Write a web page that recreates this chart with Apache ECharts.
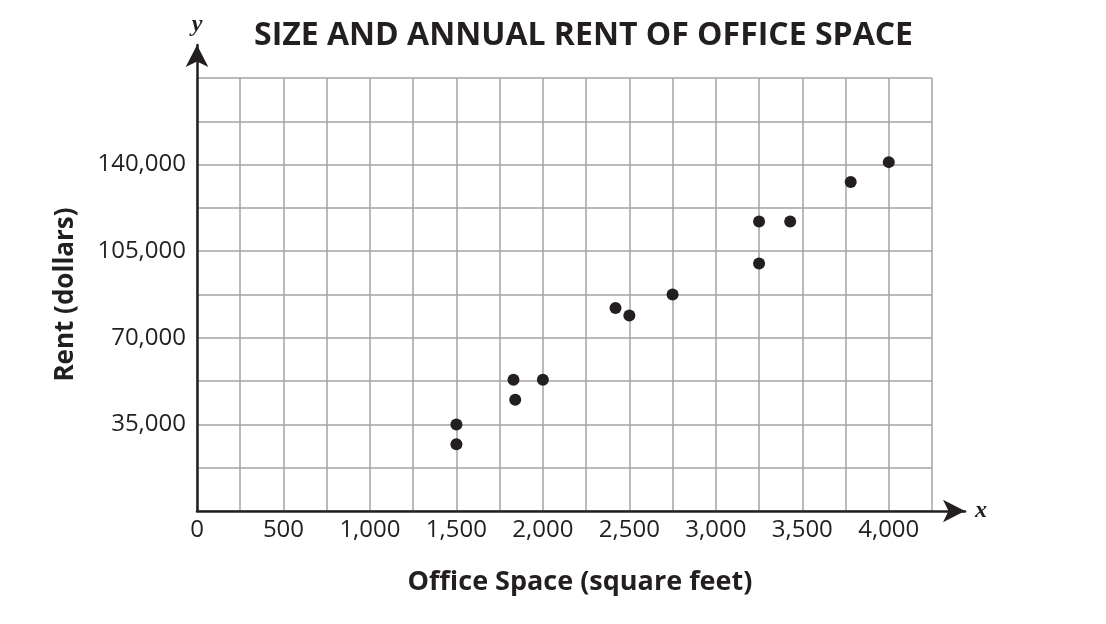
<!DOCTYPE html>
<html>
<head>
<meta charset="utf-8">
<script src="https://cdn.jsdelivr.net/npm/echarts@6/dist/echarts.min.js"></script>
<style>
  html, body { margin: 0; padding: 0; background: #fff; }
  #chart { width: 1106px; height: 624px; }
</style>
</head>
<body>
<div id="chart"></div>
<script>
// office space (sq ft) and annual rent (dollars)
const officeSpace = [1500, 1500, 1830, 1840, 2000, 2420, 2500, 2750, 3250, 3250, 3430, 3780, 4000];
const rent = [35000, 27000, 53000, 45000, 53000, 82000, 79000, 87500, 117000, 100000, 117000, 133000, 141000];

const xLabels = [0, 500, 1000, 1500, 2000, 2500, 3000, 3500, 4000];
const yLabels = [35000, 70000, 105000, 140000];

const points = officeSpace.map((x, i) => [x, rent[i]]);
const fmt = v => v.toLocaleString('en-US');
const sans = '"Open Sans", "Noto Sans", sans-serif';
const serif = '"Liberation Serif", "DejaVu Serif", serif';
const ink = '#231f20';

const chart = echarts.init(document.getElementById('chart'));

chart.setOption({
  animation: false,
  backgroundColor: '#fff',
  title: {
    text: 'SIZE AND ANNUAL RENT OF OFFICE SPACE',
    left: 249,
    top: 15,
    textStyle: { fontFamily: sans, fontWeight: 'bold', fontSize: 32, color: ink }
  },
  grid: [
    // the squared paper
    { left: 197, right: 174, top: 78, bottom: 113 },
    // longer axes carrying the arrow heads
    { left: 197, right: 141, top: 45, bottom: 113 }
  ],
  xAxis: [
    {
      type: 'value', gridIndex: 0, min: 0, max: 4250, interval: 250,
      name: 'Office Space (square feet)', nameLocation: 'middle', nameGap: 58,
      nameTextStyle: { fontFamily: sans, fontWeight: 'bold', fontSize: 27, color: ink, padding: [0, 0, 0, 31] },
      axisLine: { show: false },
      axisTick: { show: false },
      splitLine: { lineStyle: { color: '#a3a3a3', width: 1.5 } },
      axisLabel: {
        margin: 7, fontFamily: sans, fontSize: 24, color: ink,
        formatter: v => xLabels.includes(v) ? fmt(v) : ''
      }
    },
    {
      type: 'value', gridIndex: 1, min: 0, max: 1,
      name: 'x', nameLocation: 'end', nameGap: 10,
      nameTextStyle: { fontFamily: serif, fontStyle: 'italic', fontWeight: 'bold', fontSize: 24, color: ink },
      axisLine: { show: true, symbol: ['none', 'arrow'], symbolSize: [17, 22], lineStyle: { color: ink, width: 2.5 } },
      axisTick: { show: false }, axisLabel: { show: false }, splitLine: { show: false }
    }
  ],
  yAxis: [
    {
      type: 'value', gridIndex: 0, min: 0, max: 175000, interval: 17500,
      name: 'Rent (dollars)', nameLocation: 'middle', nameGap: 118, nameRotate: 90,
      nameTextStyle: { fontFamily: sans, fontWeight: 'bold', fontSize: 26, color: ink },
      axisLine: { show: false },
      axisTick: { show: false },
      splitLine: { lineStyle: { color: '#a3a3a3', width: 1.5 } },
      axisLabel: {
        margin: 11, fontFamily: sans, fontSize: 24, color: ink,
        formatter: v => yLabels.includes(v) ? fmt(v) : ''
      }
    },
    {
      type: 'value', gridIndex: 1, min: 0, max: 1,
      name: 'y', nameLocation: 'end', nameGap: 8,
      nameTextStyle: { fontFamily: serif, fontStyle: 'italic', fontWeight: 'bold', fontSize: 24, color: ink },
      axisLine: { show: true, symbol: ['none', 'arrow'], symbolSize: [17, 22], lineStyle: { color: ink, width: 2.5 } },
      axisTick: { show: false }, axisLabel: { show: false }, splitLine: { show: false }
    }
  ],
  series: [{
    type: 'scatter',
    xAxisIndex: 0,
    yAxisIndex: 0,
    symbolSize: 12,
    itemStyle: { color: ink, opacity: 1 },
    data: points
  }]
});
</script>
</body>
</html>
